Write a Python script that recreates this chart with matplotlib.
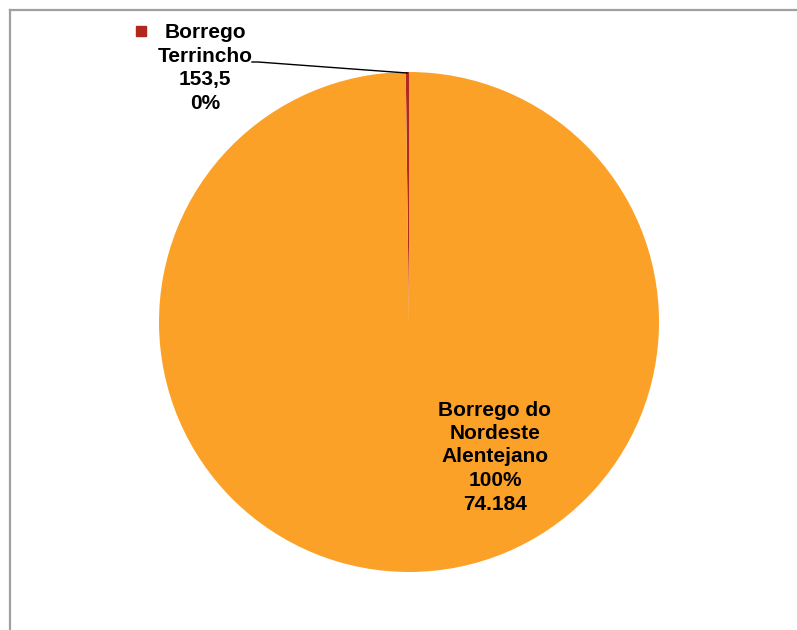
"""Pie chart: Borrego Terrincho vs Borrego do Nordeste Alentejano."""

import matplotlib

matplotlib.use("Agg")
import matplotlib.pyplot as plt
from matplotlib.patches import Rectangle

# dados
categorias = ["Borrego Terrincho", "Borrego do Nordeste Alentejano"]
valores = [153.5, 74184]
cores = ["#B0281F", "#FCA127"]


def fmt_pt(v):
    """Formato português: vírgula decimal, ponto de milhares."""
    if v != int(v):
        return f"{v:.1f}".replace(".", ",")
    return f"{int(v):,}".replace(",", ".")


total = sum(valores)
pct = [f"{v / total * 100:.0f}%" for v in valores]

plt.rcParams["font.family"] = ["Liberation Sans", "DejaVu Sans"]

W, H = 797, 630
fig = plt.figure(figsize=(W / 100, H / 100), dpi=100)
ax = fig.add_axes([0, 0, 1, 1])

ax.pie(valores, colors=cores, startangle=90, counterclock=True,
       center=(409, 308), radius=250, frame=True,
       wedgeprops=dict(linewidth=0))
ax.set_xlim(0, W)
ax.set_ylim(0, H)
ax.set_aspect("equal")
ax.axis("off")

# moldura do gráfico (apenas esquerda e topo visíveis)
ax.plot([10.5, 10.5], [0, 620], color="#A0A0A0", lw=1.6)
ax.plot([10, W], [620, 620], color="#A0A0A0", lw=1.6)

# rótulo da fatia pequena com linha de chamada
ax.text(205, 562, f"Borrego\nTerrincho\n{fmt_pt(valores[0])}\n{pct[0]}",
        ha="center", va="center", fontsize=15, fontweight="bold",
        linespacing=1.3)
ax.add_patch(Rectangle((136, 594), 10, 10, color=cores[0]))
ax.plot([252, 258, 407], [568, 568, 557], color="black", lw=1)

# rótulo da fatia grande
ax.text(495, 173, f"Borrego do\nNordeste\nAlentejano\n{pct[1]}\n{fmt_pt(valores[1])}",
        ha="center", va="center", fontsize=15, fontweight="bold",
        linespacing=1.3)

fig.savefig("out.png", dpi=100)
plt.close(fig)
